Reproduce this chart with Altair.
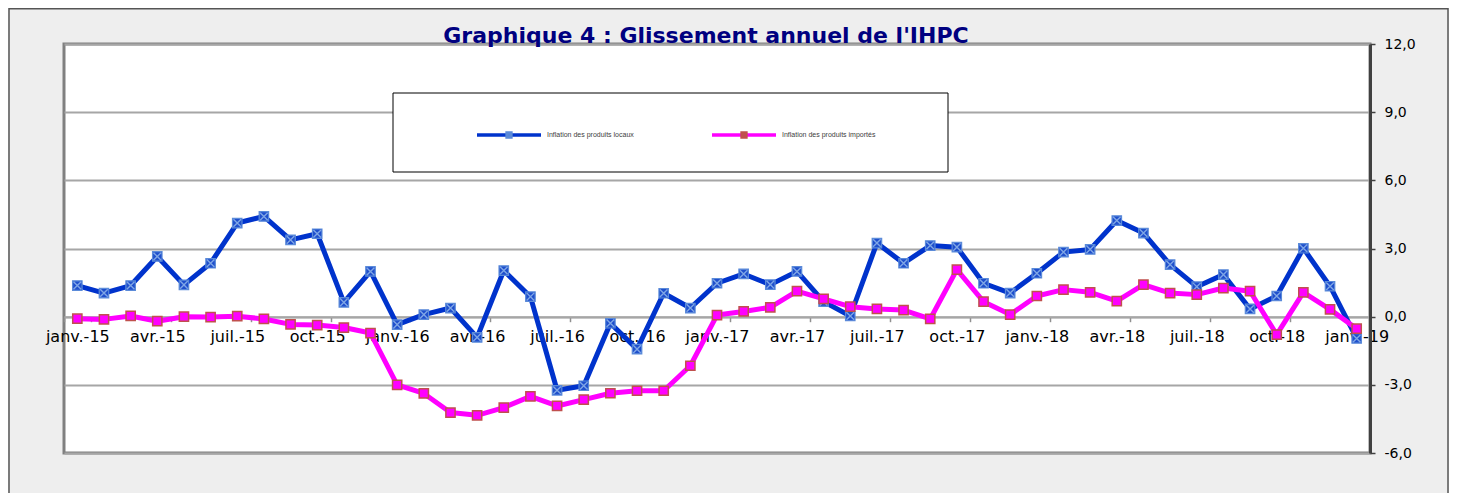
import altair as alt
import pandas as pd

# ---- data ----
mois_abr = ["janv.", "févr.", "mars", "avr.", "mai", "juin",
            "juil.", "août", "sept.", "oct.", "nov.", "déc."]
annees = ["15", "16", "17", "18", "19"]
mois = [f"{m}-{a}" for a in annees for m in mois_abr][:49]

locaux = [1.37, 1.04, 1.37, 2.65, 1.40, 2.35, 4.12, 4.41, 3.38, 3.65, 0.63, 1.99,
          -0.35, 0.09, 0.38, -0.91, 2.03, 0.88, -3.24, -3.04, -0.29, -1.43, 1.03, 0.38,
          1.47, 1.88, 1.41, 1.99, 0.66, 0.03, 3.24, 2.35, 3.13, 3.06, 1.47, 1.04,
          1.91, 2.84, 2.96, 4.23, 3.68, 2.29, 1.32, 1.85, 0.34, 0.91, 3.01, 1.34,
          -0.96]
importes = [-0.09, -0.12, 0.03, -0.20, 0.00, -0.02, 0.02, -0.10, -0.34, -0.37, -0.48, -0.72,
            -3.00, -3.38, -4.22, -4.34, -4.00, -3.51, -3.93, -3.65, -3.37, -3.26, -3.26, -2.16,
            0.07, 0.23, 0.41, 1.12, 0.78, 0.44, 0.34, 0.29, -0.10, 2.07, 0.66, 0.09,
            0.91, 1.19, 1.07, 0.68, 1.41, 1.04, 0.97, 1.26, 1.12, -0.79, 1.07, 0.32,
            -0.53]
etiquettes_x = mois[::3]
graduations_y = [-6, -3, 0, 3, 6, 9, 12]

SERIE_L = "Inflation des produits locaux"
SERIE_I = "Inflation des produits importés"
titre = "Graphique 4 : Glissement annuel de l'IHPC"

df = pd.DataFrame({
    "mois": mois + mois,
    "valeur": locaux + importes,
    "serie": [SERIE_L] * len(mois) + [SERIE_I] * len(mois),
})
df["marqueur"] = df["serie"]

W, H = 1306, 409

x_enc = alt.X(
    "mois:O", sort=mois,
    scale=alt.Scale(type="band", paddingInner=0, paddingOuter=0),
    axis=alt.Axis(values=etiquettes_x, title=None, labelAngle=0, grid=False,
                  offset=-136.3, tickBand="extent", labelOverlap=False,
                  labelFont="DejaVu Sans", labelFontSize=16, labelColor="#000000",
                  labelPadding=7, domainColor="#a6a6a6", domainWidth=2,
                  tickColor="#909090", tickSize=5, tickWidth=1.5),
)
y_enc = alt.Y(
    "valeur:Q",
    scale=alt.Scale(domain=[-6, 12], nice=False, zero=False),
    axis=alt.Axis(orient="right", values=graduations_y, title=None, grid=True,
                  gridColor="#a6a6a6", gridWidth=2,
                  labelExpr="(datum.value < 0 ? '-' : '') + replace(format(abs(datum.value), '.1f'), '.', ',')",
                  labelFont="DejaVu Sans", labelFontSize=14, labelColor="#000000",
                  labelAlign="left", labelPadding=9,
                  domainColor="#404040", domainWidth=3,
                  tickColor="#404040", tickSize=5, tickWidth=1.5),
)

leg_common = dict(title=None, orient="none", legendX=411, legendY=57,
                  direction="horizontal", symbolSize=4096, symbolStrokeWidth=3.5,
                  labelFont="Liberation Sans", labelFontSize=7,
                  labelOffset=4, columnPadding=71, padding=0)
leg_ligne = alt.Legend(symbolType="stroke", zindex=1, labelColor="#404040", **leg_common)
leg_marq = alt.Legend(symbolType="M-1,0L-1,0M1,0L1,0M-0.06,-0.06H0.06V0.06H-0.06Z",
                      labelOpacity=0, labelColor="rgba(0,0,0,0)", zindex=2, **leg_common)

color_enc = alt.Color("serie:N", sort="descending",
                      scale=alt.Scale(range=["#0033cc", "#ff00ff"]), legend=leg_ligne)
fill_enc = alt.Fill("marqueur:N", sort="descending",
                    scale=alt.Scale(range=["#1f4fcc", "#ff00ff"]), legend=leg_marq)
stroke_enc = alt.Stroke("marqueur:N", sort="descending",
                        scale=alt.Scale(range=["#5b8bd9", "#c0504d"]), legend=leg_marq)

base = alt.Chart(df)
loc = base.transform_filter(alt.datum.serie == SERIE_L)
imp = base.transform_filter(alt.datum.serie == SERIE_I)

ligne_l = loc.mark_line(strokeWidth=5, strokeJoin="round").encode(x=x_enc, y=y_enc, color=color_enc)
carre_l = loc.mark_point(shape="square", filled=True, size=90, strokeWidth=1.2, opacity=1).encode(
    x=x_enc, y=y_enc, fill=fill_enc, stroke=stroke_enc)
croix_l = loc.mark_point(shape="M-0.8,-0.8L0.8,0.8M0.8,-0.8L-0.8,0.8", filled=False, size=90,
                         color="#7fa6e6", strokeWidth=1.4, opacity=1).encode(x=x_enc, y=y_enc)
ligne_i = imp.mark_line(strokeWidth=5, strokeJoin="round").encode(x=x_enc, y=y_enc, color=color_enc)
carre_i = imp.mark_point(shape="square", filled=True, size=85, strokeWidth=1.5, opacity=1).encode(
    x=x_enc, y=y_enc, fill=fill_enc, stroke=stroke_enc)

un = alt.Data(values=[{"k": 1}])
cadre = alt.Chart(un).mark_rect(fill=None, stroke="#555555", strokeWidth=1.5).encode(
    x=alt.value(-55), x2=alt.value(1384), y=alt.value(-35.2), y2=alt.value(600))
boite = alt.Chart(un).mark_rect(fill="white", stroke="#000000", strokeWidth=1).encode(
    x=alt.value(329), x2=alt.value(884), y=alt.value(49), y2=alt.value(128))
texte_titre = alt.Chart(un).mark_text(
    font="DejaVu Sans", fontSize=22, fontWeight="bold", color="#000080",
    align="center", baseline="alphabetic").encode(
    x=alt.value(642), y=alt.value(-1), text=alt.value(titre))

chart = alt.layer(cadre, boite, ligne_l, carre_l, croix_l, ligne_i, carre_i, texte_titre).properties(
    width=W, height=H,
    autosize=alt.AutoSizeParams(type="none"),
    padding={"left": 56, "top": 36, "right": 79, "bottom": 40},
    background="#eeeeee",
).configure_view(fill="white", stroke="#808080", strokeWidth=3)

chart.save("out.html", embed_options={"renderer": "svg", "actions": False})
